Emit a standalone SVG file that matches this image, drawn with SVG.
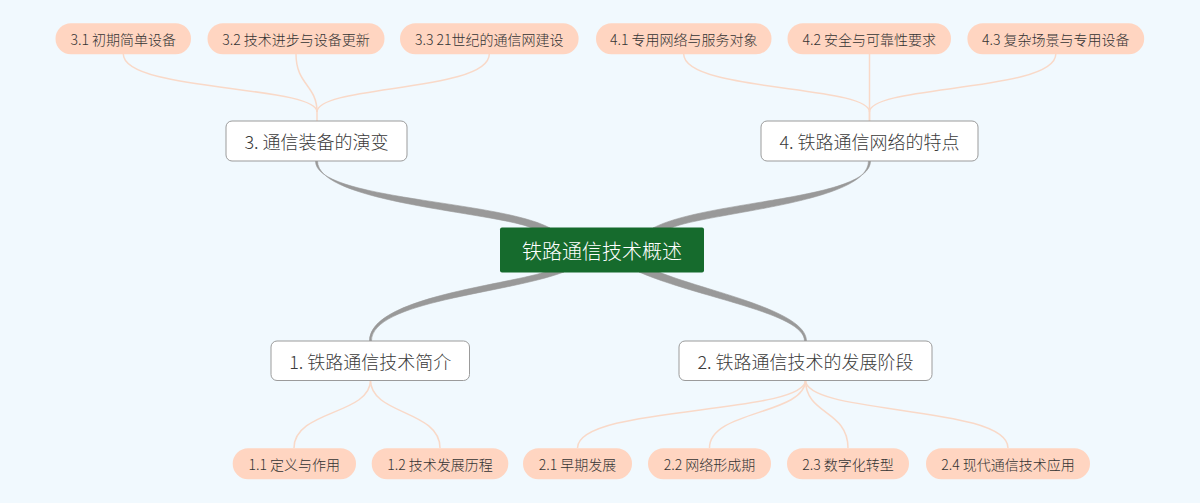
<svg xmlns="http://www.w3.org/2000/svg" width="1200" height="503" viewBox="0 0 1200 503">
<style>
text{font-family:"Noto Sans CJK SC","Noto Sans",sans-serif;dominant-baseline:central;text-anchor:middle;font-weight:300}
.main rect{fill:#fff;stroke:#9b9b9b;stroke-width:1}
.main text{font-size:18px;fill:#3a3a3a}
.leaf rect{fill:#ffd5c1}
.leaf text{font-size:14px;fill:#333}
.lc{fill:none;stroke:#f9d9c8;stroke-width:1.5}
.mc{fill:#999;stroke:#999;stroke-width:0.6}
</style>
<rect width="1200" height="503" fill="#f1f9fe"/>
<g id="connectors">
<path class="mc" d="M315.5,161 C315.5,200 498,200 550,228 L532,228 C494,212 317.5,203 317.5,161 Z"/>
<path class="mc" d="M870.5,161 C870.5,200 706,200 653,228 L671,228 C710,212 868.5,203 868.5,161 Z"/>
<path class="mc" d="M369.5,341 C369.5,298 500,286 545,272 L564,272 C505,294 371.5,301 371.5,341 Z"/>
<path class="mc" d="M806.5,341 C806.5,310 705,291 659,272 L639,272 C699,298 804.5,313 804.5,341 Z"/>
<path class="lc" d="M123.3,54 C123.3,92 317,85 317,112 V121"/>
<path class="lc" d="M296,54 C296,85 317,85 317,112"/>
<path class="lc" d="M489.3,54 C489.3,92 317,85 317,112"/>
<path class="lc" d="M683.7,54 C683.7,92 869.5,85 869.5,112 V121"/>
<path class="lc" d="M869.5,54 V121"/>
<path class="lc" d="M1055.8,54 C1055.8,92 869.5,85 869.5,112"/>
<path class="lc" d="M370.5,380 C370.5,415 294,410 294,448"/>
<path class="lc" d="M370.5,380 C370.5,415 440,410 440,448"/>
<path class="lc" d="M805.5,380 C805.5,415 577.5,405 577.5,448"/>
<path class="lc" d="M805.5,380 C805.5,415 709.5,410 709.5,448"/>
<path class="lc" d="M805.5,380 C805.5,415 848,410 848,448"/>
<path class="lc" d="M805.5,380 C805.5,415 1008,405 1008,448"/>
</g>
<g id="root">
<rect x="500" y="227.5" width="204" height="45" rx="2" fill="#166b2d"/>
<text x="602" y="250" style="font-size:20px;fill:#fff">铁路通信技术概述</text>
</g>
<g id="n1" class="main"><rect x="271" y="341" width="198.5" height="39.5" rx="6"/><text x="370.2" y="360.7">1. 铁路通信技术简介</text></g>
<g id="n2" class="main"><rect x="679" y="341" width="253" height="39.5" rx="6"/><text x="805.5" y="360.7">2. 铁路通信技术的发展阶段</text></g>
<g id="n3" class="main"><rect x="226" y="121" width="181" height="40" rx="6"/><text x="316.5" y="141">3. 通信装备的演变</text></g>
<g id="n4" class="main"><rect x="761" y="121" width="217" height="40" rx="6"/><text x="869.5" y="141">4. 铁路通信网络的特点</text></g>
<g id="n31" class="leaf"><rect x="55.5" y="23.3" width="135.5" height="31" rx="15.5"/><text x="123.3" y="38.8">3.1 初期简单设备</text></g>
<g id="n32" class="leaf"><rect x="207.5" y="23.3" width="177" height="31" rx="15.5"/><text x="296" y="38.8">3.2 技术进步与设备更新</text></g>
<g id="n33" class="leaf"><rect x="400" y="23.3" width="178.6" height="31" rx="15.5"/><text x="489.3" y="38.8">3.3 21世纪的通信网建设</text></g>
<g id="n41" class="leaf"><rect x="596" y="23.3" width="175.5" height="31" rx="15.5"/><text x="683.7" y="38.8">4.1 专用网络与服务对象</text></g>
<g id="n42" class="leaf"><rect x="787.5" y="23.3" width="163.5" height="31" rx="15.5"/><text x="869.3" y="38.8">4.2 安全与可靠性要求</text></g>
<g id="n43" class="leaf"><rect x="967.4" y="23.3" width="176.8" height="31" rx="15.5"/><text x="1055.8" y="38.8">4.3 复杂场景与专用设备</text></g>
<g id="n11" class="leaf"><rect x="232.7" y="448.3" width="123.3" height="31" rx="15.5"/><text x="294.3" y="463.8">1.1 定义与作用</text></g>
<g id="n12" class="leaf"><rect x="371.7" y="448.3" width="136.6" height="31" rx="15.5"/><text x="440" y="463.8">1.2 技术发展历程</text></g>
<g id="n21" class="leaf"><rect x="523" y="448.3" width="109" height="31" rx="15.5"/><text x="577.5" y="463.8">2.1 早期发展</text></g>
<g id="n22" class="leaf"><rect x="648" y="448.3" width="123" height="31" rx="15.5"/><text x="709.5" y="463.8">2.2 网络形成期</text></g>
<g id="n23" class="leaf"><rect x="787" y="448.3" width="122" height="31" rx="15.5"/><text x="848" y="463.8">2.3 数字化转型</text></g>
<g id="n24" class="leaf"><rect x="926" y="448.3" width="164" height="31" rx="15.5"/><text x="1008" y="463.8">2.4 现代通信技术应用</text></g>
</svg>
